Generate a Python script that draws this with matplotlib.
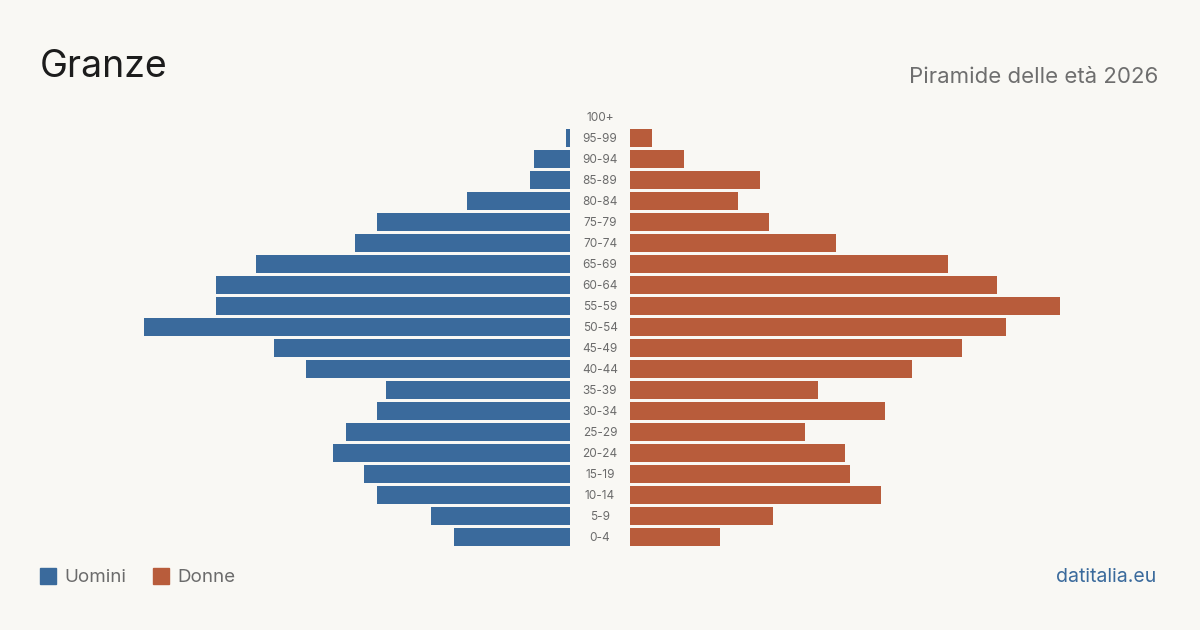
import matplotlib.pyplot as plt
from matplotlib.patches import Rectangle

plt.rcParams['font.family'] = ['Inter', 'DejaVu Sans']

age_groups = ['0-4', '5-9', '10-14', '15-19', '20-24', '25-29', '30-34', '35-39',
              '40-44', '45-49', '50-54', '55-59', '60-64', '65-69', '70-74', '75-79',
              '80-84', '85-89', '90-94', '95-99', '100+']
men = [26, 31, 43, 46, 53, 50, 43, 41, 59, 66, 95, 79, 79, 70, 48, 43, 23, 9, 8, 1, 0]
women = [20, 32, 56, 49, 48, 39, 57, 42, 63, 74, 84, 96, 82, 71, 46, 31, 24, 29, 12, 5, 0]

bg = '#f9f8f4'
blue = '#3a6a9c'
orange = '#b85c3b'

W, H = 1200, 630
fig = plt.figure(figsize=(12, 6.3), dpi=100, facecolor=bg)

px = 4.48  # pixels per person
top, bottom = 106.5, 547.5
ax_h = (bottom - top) / H
ax_y = 1 - bottom / H

left_w = 440
axl = fig.add_axes([(570 - left_w) / W, ax_y, left_w / W, ax_h])
axr = fig.add_axes([630 / W, ax_y, left_w / W, ax_h])

ys = list(range(len(age_groups)))
axl.barh(ys, men, height=0.81, color=blue)
axr.barh(ys, women, height=0.81, color=orange)

for ax in (axl, axr):
    ax.set_facecolor('none')
    ax.set_ylim(-0.5, len(age_groups) - 0.5)
    ax.set_xlim(0, left_w / px)
    ax.axis('off')
axl.invert_xaxis()

for y, lab in zip(ys, age_groups):
    fig.text(600 / W, 1 - (538 - y * 21) / H, lab, ha='center', va='center',
             fontsize=8.5, color='#6b6b6b')

fig.text(40 / W, 1 - 67 / H, 'Granze', fontsize=27, color='#1c1c1c', va='center')
fig.text(1158 / W, 1 - 77 / H, 'Piramide delle età 2026', fontsize=16,
         color='#6e6e6e', va='center', ha='right')

fig.patches.append(Rectangle((40 / W, 1 - 584 / H), 16 / W, 16 / H,
                             transform=fig.transFigure, color=blue))
fig.text(64 / W, 1 - 577 / H, 'Uomini', fontsize=13.5, color='#6b6b6b', va='center')
fig.patches.append(Rectangle((153 / W, 1 - 584 / H), 16 / W, 16 / H,
                             transform=fig.transFigure, color=orange))
fig.text(177 / W, 1 - 577 / H, 'Donne', fontsize=13.5, color='#6b6b6b', va='center')

fig.text(1156 / W, 1 - 577 / H, 'datitalia.eu', fontsize=14, color=blue,
         va='center', ha='right')

fig.savefig('out.png', dpi=100, facecolor=bg)
